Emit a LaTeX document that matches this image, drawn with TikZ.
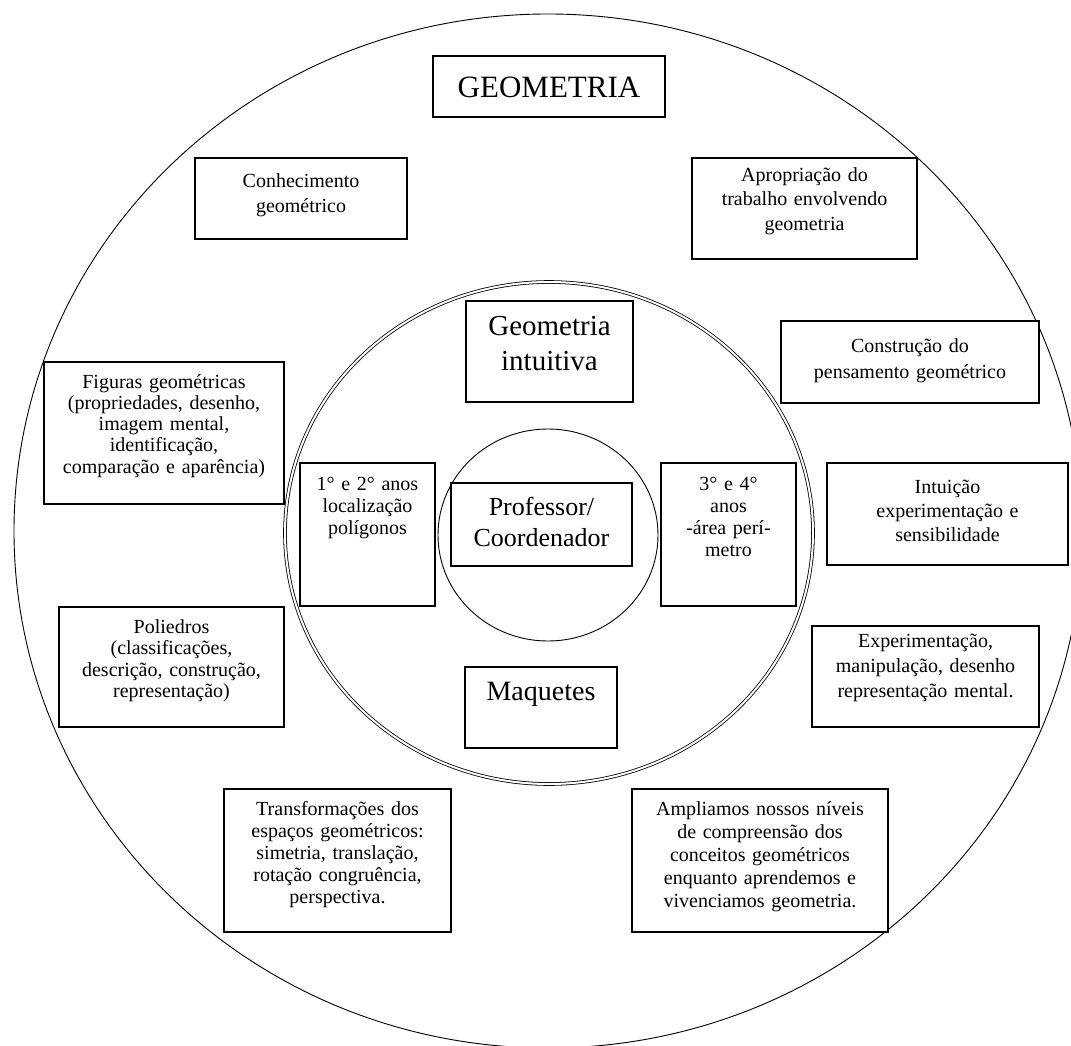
\documentclass[tikz,border=0pt]{standalone}
\usepackage{fontspec}
\setmainfont{Liberation Serif}
\usetikzlibrary{fit}
\begin{document}
\begin{tikzpicture}[x=1pt,y=-1pt,
  boxnode/.style={draw, line width=1.4pt, fill=white, inner sep=0pt},
  txt/.style={anchor=base, inner sep=0pt, align=center},
  small/.style={font=\fontsize{20}{#1}\selectfont},
  big/.style={font=\fontsize{#1}{35}\selectfont}]
\useasboundingbox (0,0) rectangle (1071,1046);
\clip (0,0) rectangle (1071,1046);
% circles
\draw[line width=0.9pt] (548,531) ellipse [x radius=534, y radius=517];
\draw[line width=0.8pt, double, double distance=2pt] (549,533) ellipse [x radius=264, y radius=251];
\draw[line width=0.9pt] (548,535) ellipse [x radius=110, y radius=106];
% boxes
\node[boxnode, fit={(433,56) (665,117)}] (geo) {};
\node[boxnode, fit={(195,158) (407,239)}] (conh) {};
\node[boxnode, fit={(692,158) (917,259)}] (apro) {};
\node[boxnode, fit={(466,301) (633,402)}] (gint) {};
\node[boxnode, fit={(781,321) (1039,403)}] (cons) {};
\node[boxnode, fit={(44,362) (284,504)}] (fig) {};
\node[boxnode, fit={(300,463) (435,606)}] (anos12) {};
\node[boxnode, fit={(451,483) (632,566)}] (prof) {};
\node[boxnode, fit={(661,463) (796,606)}] (anos34) {};
\node[boxnode, fit={(827,463) (1068,565)}] (intu) {};
\node[boxnode, fit={(59,607) (284,727)}] (poli) {};
\node[boxnode, fit={(465,667) (617,748)}] (maq) {};
\node[boxnode, fit={(812,626) (1039,727)}] (expe) {};
\node[boxnode, fit={(224,789) (451,932)}] (trans) {};
\node[boxnode, fit={(632,789) (888,932)}] (ampl) {};
% texts
\node[txt, text width=230pt, big=31] (geo-t) at (549,98) {GEOMETRIA};
\node[txt, text width=210pt, small=25] (conh-t) at (301,187) {Conhecimento\\geométrico};
\node[txt, text width=225pt, small=24] (apro-t) at (804.5,182) {Apropriação do\\trabalho envolvendo\\geometria};
\node[txt, text width=167pt, big=29] (gint-t) at (549.5,335) {Geometria\\intuitiva};
\node[txt, text width=258pt, small=26] (cons-t) at (910,352) {Construção do\\pensamento geométrico};
\node[txt, text width=240pt, small=21.3] (fig-t) at (164,388) {Figuras geométricas\\(propriedades, desenho,\\imagem mental,\\identificação,\\comparação e aparência)};
\node[txt, text width=135pt, small=22] (anos12-t) at (367.5,490) {1° e 2° anos\\localização\\polígonos};
\node[txt, text width=181pt, font=\fontsize{26}{31}\selectfont] (prof-t) at (541.5,515) {Professor/\\Coordenador};
\node[txt, text width=135pt, small=22] (anos34-t) at (728.5,490) {3° e 4°\\anos\\-área perí-\\metro};
\node[txt, text width=241pt, small=24] (intu-t) at (947.5,493) {Intuição\\experimentação e\\sensibilidade};
\node[txt, text width=225pt, small=21.5] (poli-t) at (171.5,633) {Poliedros\\(classificações,\\descrição, construção,\\representação)};
\node[txt, text width=152pt, big=28] (maq-t) at (541,700) {Maquetes};
\node[txt, text width=227pt, small=25] (expe-t) at (925.5,647) {Experimentação,\\manipulação, desenho\\representação mental.};
\node[txt, text width=227pt, small=22] (trans-t) at (337.5,815) {Transformações dos\\espaços geométricos:\\simetria, translação,\\rotação congruência,\\perspectiva.};
\node[txt, text width=256pt, small=23] (ampl-t) at (760,815) {Ampliamos nossos níveis\\de compreensão dos\\conceitos geométricos\\enquanto aprendemos e\\vivenciamos geometria.};
\end{tikzpicture}
\end{document}
